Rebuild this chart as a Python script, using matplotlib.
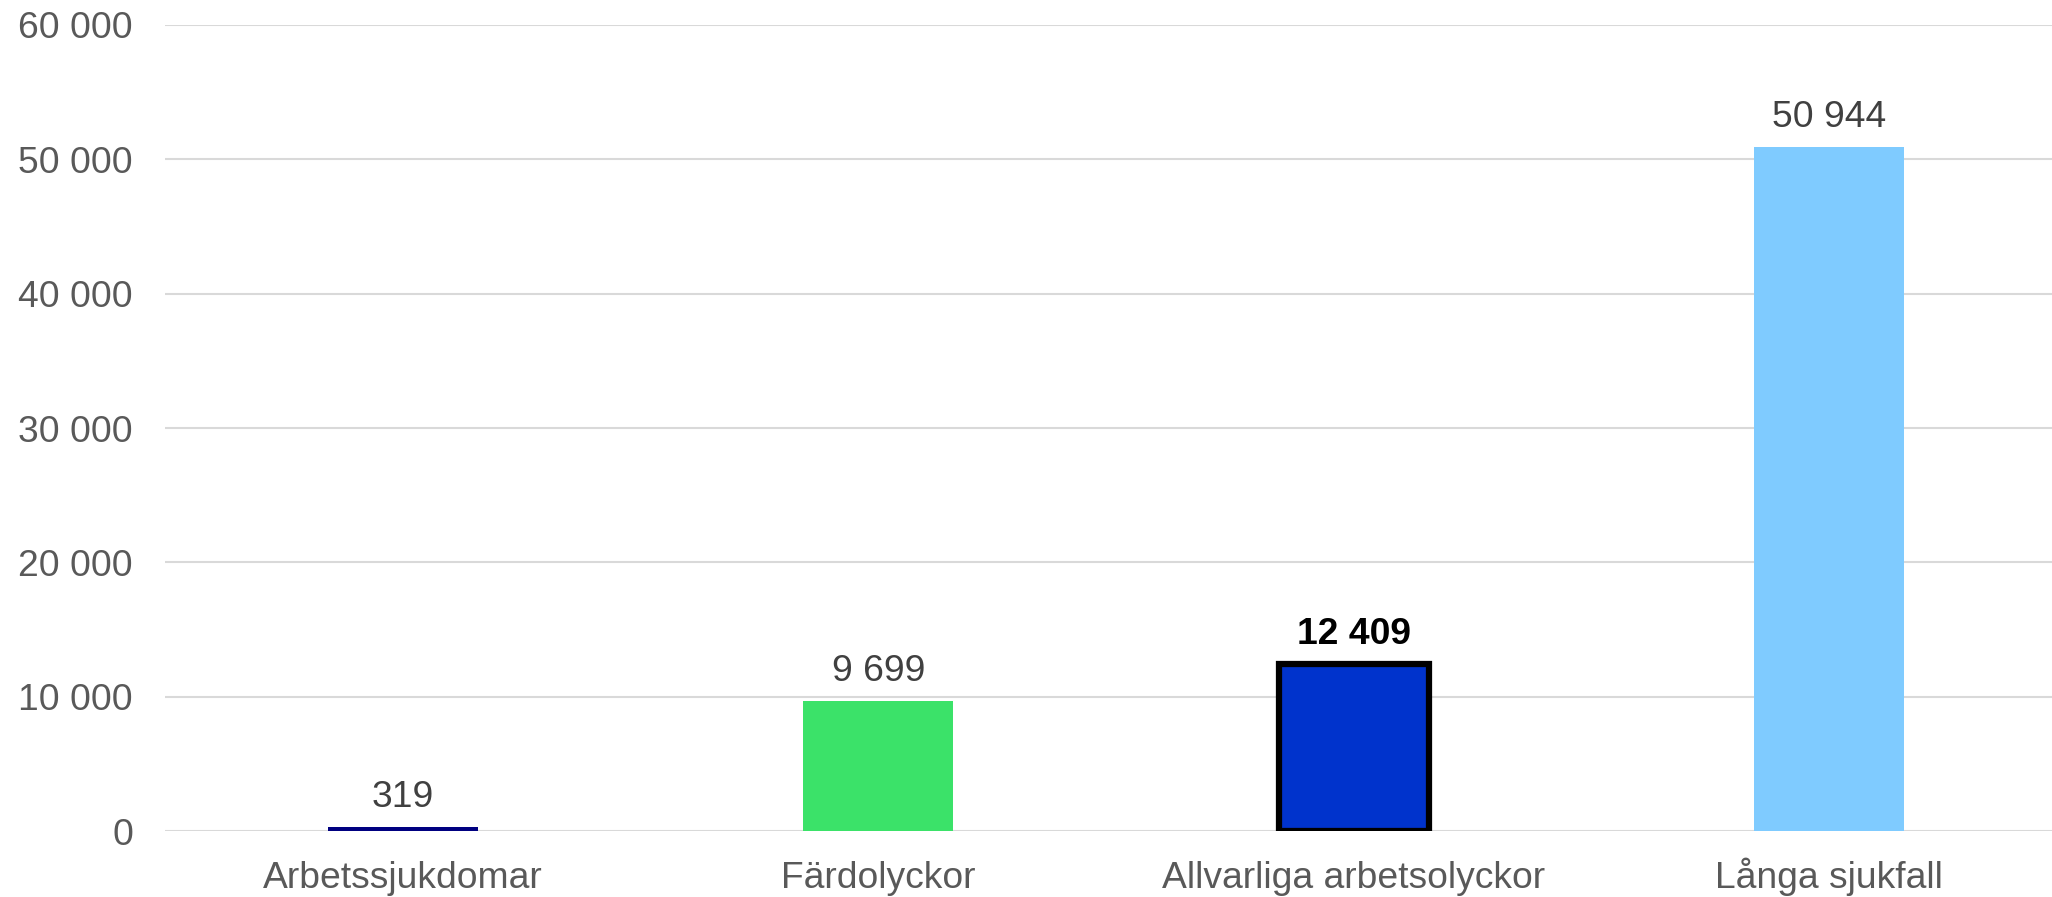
import matplotlib
matplotlib.use("Agg")
import matplotlib.pyplot as plt

categories = ["Arbetssjukdomar", "Färdolyckor", "Allvarliga arbetsolyckor", "Långa sjukfall"]
values = [319, 9699, 12409, 50944]
labels = ["319", "9 699", "12 409", "50 944"]
colors = ["#000080", "#3BE269", "#0033CC", "#7FCBFF"]
yticks = [0, 10000, 20000, 30000, 40000, 50000, 60000]
ytick_labels = ["0", "10 000", "20 000", "30 000", "40 000", "50 000", "60 000"]

plt.rcParams['font.family'] = ['Liberation Sans', 'DejaVu Sans']

W, H = 2052, 897
FS = 26.8
fig = plt.figure(figsize=(W/100, H/100), dpi=100)
left, right = 165/W, 1.0
bottom, top = (H-831)/H, (H-25)/H
ax = fig.add_axes([left, bottom, right-left, top-bottom])

x = list(range(len(categories)))
bars = ax.bar(x, values, width=0.315, color=colors, zorder=3)
bars[2].set_edgecolor("black")
bars[2].set_linewidth(4.5)

band = 475.5
ax.set_xlim(-0.5, -0.5 + (W - 165) / band)
ax.set_ylim(0, 60000)
ax.set_yticks(yticks)
ax.set_yticklabels(ytick_labels)
ax.set_xticks(x)
ax.set_xticklabels(categories)

for s in ax.spines.values():
    s.set_visible(False)
ax.grid(axis="y", color="#d9d9d9", linewidth=1.5, zorder=0)
ax.tick_params(axis="y", length=0, pad=23, labelsize=FS, labelcolor="#595959")
ax.tick_params(axis="x", length=0, pad=41, labelsize=FS, labelcolor="#595959")
for t in ax.get_xticklabels():
    t.set_verticalalignment("baseline")

for i, (v, lab) in enumerate(zip(values, labels)):
    bold = (i == 2)
    ax.annotate(lab, xy=(i, v), xytext=(0, 14.5), textcoords="offset points",
                ha="center", va="baseline", fontsize=FS,
                color="black" if bold else "#404040",
                fontweight="bold" if bold else "normal", zorder=4)

fig.savefig("out.png", dpi=100)
